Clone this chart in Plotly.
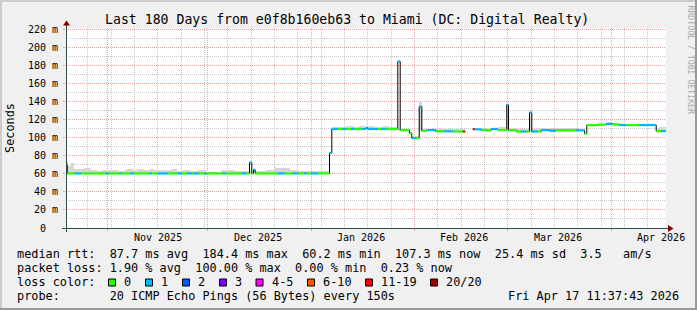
import plotly.graph_objects as go
import pandas as pd

START = pd.Timestamp("2025-10-19 11:37:43")
END = pd.Timestamp("2026-04-17 11:37:43")
SPAN_DAYS = 180.0

# ---- median rtt step segments: start (days after START), value (ms), loss bin
seg_day = [0.00, 0.36, 2.85, 4.35, 11.94, 12.66, 16.14, 16.65, 19.35, 20.16,
           25.14, 25.65, 27.66, 30.45, 33.45, 34.65, 36.45, 37.65, 38.25, 39.75,
           41.55, 42.06, 47.04, 47.76, 52.56, 54.06, 55.05, 55.74, 56.25, 56.76,
           63.54, 65.55, 68.04, 69.54, 71.55, 72.24, 73.56, 75.54, 79.05, 79.74,
           81.54, 83.04, 84.06, 85.56, 86.55, 88.56, 90.06, 90.54, 93.54, 94.56,
           96.06, 99.54, 100.26, 103.05, 103.74, 104.85, 105.96, 106.74, 108.24, 110.85,
           113.55, 116.04, 119.04, 119.76, 122.04, 122.55, 124.56, 126.06, 127.56, 129.54,
           132.24, 132.75, 135.06, 136.65, 137.85, 139.05, 139.74, 141.54, 142.56, 145.05,
           146.85, 153.06, 155.55, 156.24, 159.54, 162.06, 163.86, 166.05, 168.06, 172.05,
           177.06, 178.56]
seg_ms = [70.0, 60.4, 60.4, 60.4, 60.4, 60.4, 60.4, 60.4, 60.4, 60.4,
          60.4, 60.4, 60.4, 60.4, 60.4, 60.4, 60.4, 60.4, 60.4, 60.4,
          60.4, 60.4, 60.4, 60.4, 60.4, 60.4, 72.5, 60.4, 64.5, 60.4,
          60.4, 60.4, 60.4, 60.4, 60.4, 60.4, 60.4, 60.4, 83.0, 109.6,
          109.6, 109.6, 109.6, 109.6, 109.6, 109.6, 111.0, 109.6, 109.6, 109.6,
          109.6, 184.4, 108.3, 105.0, 99.5, 99.5, 134.4, 107.6, 108.4, 107.0,
          107.0, 106.8, 106.8, None, 109.4, 109.2, 108.6, 108.0, 109.6, 108.5,
          136.3, 108.1, 106.8, 106.8, 106.8, 127.8, 106.8, 106.8, 108.3, 107.5,
          108.0, 108.0, 104.6, 113.9, 114.6, 115.4, 114.6, 114.0, 114.0, 114.0,
          107.2, 107.2]
seg_loss = ["1", "0", "1", "0", "1", "0", "1", "0", "1", "0",
            "1", "0", "1", "0", "1", "0", "1", "0", "1", "0",
            "1", "0", "1", "0", "1", "0", "1", "0", "1", "0",
            "1", "0", "1", "0", "1", "0", "1", "0", "1", "1",
            "0", "1", "0", "1", "0", "1", "1", "1", "0", "1",
            "0", "1", "0", "0", "1", "0", "1", "0", "1", "0",
            "1", "0", "11-19", None, "11-19", "1", "0", "0", "1", "0",
            "1", "0", "0", "1", "0", "1", "1", "0", "1", "1",
            "0", "1", "0", "0", "0", "1", "0", "1", "0", "1",
            "0", "1"]

# ---- smoke (ping spread) segments: start day, low (ms), high (ms)
smoke_day = [0.00, 0.66, 1.35, 2.25, 5.25, 6.45, 6.66, 7.50, 9.30, 10.80,
             15.60, 17.40, 18.15, 20.10, 21.60, 23.10, 25.10, 26.40, 31.65, 33.15,
             35.10, 37.05, 39.45, 42.00, 46.50, 50.55, 60.00, 62.55, 63.00, 67.20,
             69.90, 79.05, 79.74, 82.00, 84.00, 86.50, 88.00, 89.70, 91.00, 92.50,
             95.00, 97.00, 99.54, 103.05, 103.74, 105.96, 106.74, 110.00, 113.00, 116.00,
             119.76, 122.04, 126.00, 129.50, 132.24, 132.75, 136.00, 139.05, 139.74, 142.00,
             147.00, 153.00, 155.55, 156.24, 162.00, 164.00, 172.00, 177.06, 178.00]
smoke_lo = [60, 60, 60, 60, 60, 60, 60, 60, 60, 60,
            60, 60, 60, 60, 60, 60, 60, 60, 60, 60,
            60, 60, 60, 60, 60, 60, 60, 60, 60, 60,
            60, 82.5, 109.3, 109.3, 109.3, 109.3, 109.3, 109.3, 109.3, 109.3,
            109.3, 109.3, 108, 104.5, 99, 107, 107, 107, 107, 106.5,
            None, 109, 108, 108, 108, 107.5, 106.5, 106.5, 106.5, 107.5,
            107.5, 107.5, 104, 113.5, 114, 113.5, 113.5, 107, 107]
smoke_hi = [74.4, 69.0, 72.5, 65.0, 66.0, 63.7, 66.0, 63.7, 62.6, 63.7,
            62.6, 63.7, 65.5, 63.7, 65.0, 63.7, 65.0, 64.4, 65.0, 62.6,
            63.7, 62.6, 63.7, 61.5, 63.7, 62.6, 63.7, 68.0, 66.0, 63.7,
            62.6, 84.0, 112.3, 111.5, 112.5, 111.5, 113.0, 112.0, 113.0, 112.0,
            112.5, 111.5, 110.0, 106.0, 101.5, 140.0, 109.5, 110.5, 109.5, 110.0,
            None, 111.0, 111.0, 111.5, 137.0, 110.5, 110.0, 129.0, 109.5, 111.0,
            110.5, 109.5, 105.5, 115.0, 116.5, 115.5, 115.0, 110.0, 112.3]

# ---- axis labels
y_ticks = [0, 20, 40, 60, 80, 100, 120, 140, 160, 180, 200, 220]
y_ticktext = ["0\u00a0\u00a0", "20 m", "40 m", "60 m", "80 m", "100 m", "120 m",
              "140 m", "160 m", "180 m", "200 m", "220 m"]
month_starts = ["2025-11-01", "2025-12-01", "2026-01-01", "2026-02-01", "2026-03-01", "2026-04-01"]
month_labels = ["Nov 2025", "Dec 2025", "Jan 2026", "Feb 2026", "Mar 2026", "Apr 2026"]

# ---- legend
loss_labels = ["0", "1", "2", "3", "4-5", "6-10", "11-19", "20/20"]
loss_colors = ["#26ff00", "#00b8ff", "#0059ff", "#7e00ff", "#ff00ff", "#ff5500", "#ff0000", "#a10000"]
title = "Last 180 Days from e0f8b160eb63 to Miami (DC: Digital Realty)"
line_rtt = "median rtt:  87.7 ms avg  184.4 ms max  60.2 ms min  107.3 ms now  25.4 ms sd  3.5   am/s"
line_loss = "packet loss: 1.90 % avg  100.00 % max  0.00 % min  0.23 % now"
line_probe = "probe:       20 ICMP Echo Pings (56 Bytes) every 150s"
stamp = "Fri Apr 17 11:37:43 2026"

MONO = "DejaVu Sans Mono"
DAY = pd.Timedelta(days=1)


def t(d):
    return START + d * DAY


color_of = dict(zip(loss_labels, loss_colors))
seg_end = seg_day[1:] + [SPAN_DAYS]
sm_end = smoke_day[1:] + [SPAN_DAYS]

fig = go.Figure()

# smoke as floating bars
sx, sy, sb, sw = [], [], [], []
for s, e, lo, hi in zip(smoke_day, sm_end, smoke_lo, smoke_hi):
    if lo is None or hi is None:
        continue
    sx.append(t((s + e) / 2))
    sy.append(hi - lo)
    sb.append(lo)
    sw.append((e - s) * 86400000)
fig.add_trace(go.Bar(x=sx, y=sy, base=sb, width=sw, marker=dict(color="#d6d6d6", line=dict(width=0)),
                     hoverinfo="skip", showlegend=False))

# black median line
bx, by = [], []
for s, e, v in zip(seg_day, seg_end, seg_ms):
    if v is None:
        bx.append(t(s))
        by.append(None)
        continue
    bx += [t(s), t(e)]
    by += [v, v]
fig.add_trace(go.Scatter(x=bx, y=by, mode="lines", line=dict(color="#000000", width=1),
                         connectgaps=False, hoverinfo="skip", showlegend=False))

# loss-coloured median segments
for lab in loss_labels:
    xs, ys = [], []
    for s, e, v, l in zip(seg_day, seg_end, seg_ms, seg_loss):
        if l == lab and v is not None:
            xs += [t(s), t(e), None]
            ys += [v, v, None]
    if xs:
        fig.add_trace(go.Scatter(x=xs, y=ys, mode="lines", line=dict(color=color_of[lab], width=2.2),
                                 hoverinfo="skip", showlegend=False))

# ---- geometry helpers (pixel -> paper)
L, T, W, H = 66, 28, 600, 200
FW, FH = 697, 310


def px(x):
    return (x - L) / W


def py(y):
    return (T + H - y) / H


shapes = []
# frame shading
shapes.append(dict(type="rect", xref="paper", yref="paper", x0=px(0), x1=px(FW), y0=py(0), y1=py(2),
                   fillcolor="#cbcbcb", line=dict(width=0), layer="above"))
shapes.append(dict(type="rect", xref="paper", yref="paper", x0=px(0), x1=px(2), y0=py(0), y1=py(FH),
                   fillcolor="#cbcbcb", line=dict(width=0), layer="above"))
shapes.append(dict(type="rect", xref="paper", yref="paper", x0=px(FW - 2), x1=px(FW), y0=py(0), y1=py(FH),
                   fillcolor="#999999", line=dict(width=0), layer="above"))
shapes.append(dict(type="rect", xref="paper", yref="paper", x0=px(0), x1=px(FW), y0=py(FH - 2), y1=py(FH),
                   fillcolor="#999999", line=dict(width=0), layer="above"))
# axis lines
AX = "#2c4d43"
shapes.append(dict(type="line", xref="paper", yref="paper", x0=px(66.5), x1=px(66.5), y0=py(232), y1=py(24),
                   line=dict(color=AX, width=1), layer="above"))
shapes.append(dict(type="line", xref="paper", yref="paper", x0=px(62), x1=px(669), y0=py(228.5), y1=py(228.5),
                   line=dict(color=AX, width=1), layer="above"))
# arrows
shapes.append(dict(type="path", xref="paper", yref="paper",
                   path=f"M {px(63.0)},{py(25.5)} L {px(70.0)},{py(25.5)} L {px(66.5)},{py(20.5)} Z",
                   fillcolor="#7f0000", line=dict(width=0), layer="above"))
shapes.append(dict(type="path", xref="paper", yref="paper",
                   path=f"M {px(668)},{py(225.0)} L {px(668)},{py(232.0)} L {px(673.5)},{py(228.5)} Z",
                   fillcolor="#7f0000", line=dict(width=0), layer="above"))

# loss colour squares
sq_x = [108.5, 145.5, 182.5, 219.5, 256.0, 307.5, 365.5, 430.5]
for xq, col in zip(sq_x, loss_colors):
    shapes.append(dict(type="rect", xref="paper", yref="paper", x0=px(xq), x1=px(xq + 7),
                       y0=py(286), y1=py(279), fillcolor=col, line=dict(color="#000000", width=1),
                       layer="above"))

ann = []


def text(x, y, s, size, xanchor="left", color="#000000", angle=0, yanchor="middle"):
    ann.append(dict(x=px(x), y=py(y), xref="paper", yref="paper", text=s, showarrow=False,
                    xanchor=xanchor, yanchor=yanchor, textangle=angle,
                    font=dict(family=MONO, size=size, color=color), borderpad=0))


text(347, 19.5, title, 13.2, xanchor="center")
text(16, 254.3, line_rtt, 11.85)
text(16, 268.3, line_loss, 11.85)
text(16, 282.3, "loss color:", 11.85)
for xq, lab in zip(sq_x, loss_labels):
    text(xq + 14.5, 282.3, lab, 11.85)
text(16, 295.8, line_probe, 11.85)
text(680, 295.8, stamp, 11.85, xanchor="right")
text(10, 128, "Seconds", 11.85, xanchor="center", angle=-90)
text(690.5, 60, "RRDTOOL / TOBI OETIKER", 8.2, xanchor="center", color="#a9a9a9", angle=90)

for ms, lab in zip(month_starts, month_labels):
    mid = pd.Timestamp(ms) + pd.Timedelta(days=15)
    ann.append(dict(x=mid, y=py(237.8), xref="x", yref="paper", text=lab, showarrow=False,
                    xanchor="center", yanchor="middle", font=dict(family=MONO, size=10, color="#000000")))

MGRID = "#e6a3a3"
GRID = "#c6c6c6"

fig.update_layout(
    width=FW, height=FH,
    margin=dict(l=L, r=FW - L - W, t=T, b=FH - T - H, pad=0),
    paper_bgcolor="#f0f0f0", plot_bgcolor="#ffffff",
    showlegend=False, bargap=0,
    shapes=shapes, annotations=ann,
    xaxis=dict(type="date", range=[START, END], showticklabels=False, zeroline=False, showline=False,
               tickmode="linear", tick0=month_starts[0], dtick="M1",
               ticks="outside", ticklen=2, tickcolor=MGRID,
               showgrid=True, gridcolor=MGRID, griddash="1px,1px", gridwidth=1,
               minor=dict(tick0="2025-10-26", dtick=7 * 86400000, showgrid=True, gridcolor=GRID,
                          griddash="1px,1px", gridwidth=1, ticks=""),
               fixedrange=True),
    yaxis=dict(range=[0, 221.4], tickmode="array", tickvals=y_ticks, ticktext=y_ticktext,
               tickfont=dict(family=MONO, size=10, color="#000000"),
               ticks="outside", ticklen=2, tickcolor=MGRID, ticklabelstandoff=3,
               showgrid=True, gridcolor=MGRID, griddash="1px,1px", gridwidth=1,
               minor=dict(dtick=10, showgrid=True, gridcolor=GRID, griddash="1px,1px", gridwidth=1, ticks=""),
               zeroline=False, showline=False, fixedrange=True),
)

fig.write_html("out.html")
